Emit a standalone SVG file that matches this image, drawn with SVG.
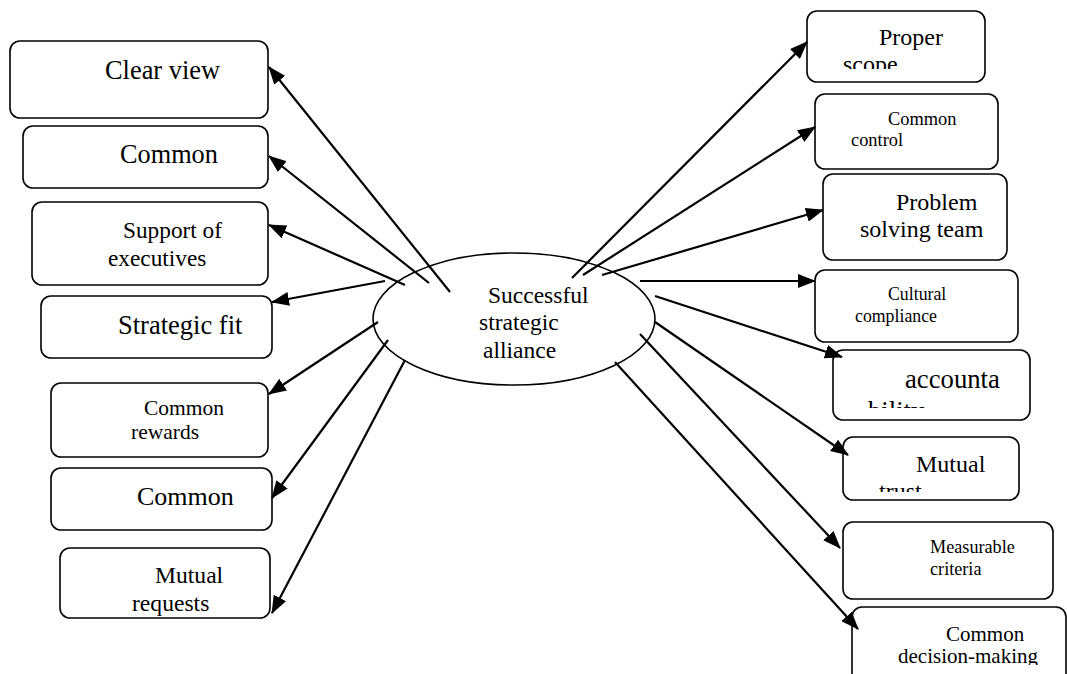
<svg xmlns="http://www.w3.org/2000/svg" width="1067" height="674" viewBox="0 0 1067 674">
<style>
.box{fill:#fff;stroke:#000;stroke-width:1.6}
text{font-family:'Liberation Serif','Times New Roman','DejaVu Serif',serif;fill:#000}
.c line{stroke:#000;stroke-width:2.2}
</style>
<defs>
<marker id="ah" markerUnits="userSpaceOnUse" markerWidth="18" markerHeight="14" refX="17" refY="7" orient="auto">
<path d="M0,0 L18,7 L0,14 z" fill="#000"/>
</marker>
<clipPath id="cp1"><rect x="808" y="12" width="176" height="57"/></clipPath>
<clipPath id="cp5"><rect x="834" y="351" width="195" height="57"/></clipPath>
<clipPath id="cp6"><rect x="844" y="438" width="174" height="54"/></clipPath>
<clipPath id="cp8"><rect x="853" y="608" width="212" height="57"/></clipPath>
</defs>

<g id="center">
<ellipse cx="514" cy="319" rx="141" ry="66" fill="#fff" stroke="#000" stroke-width="1.6"/>
<text font-size="23.5"><tspan x="488" y="303">Successful</tspan><tspan x="479" y="330">strategic</tspan><tspan x="483" y="358">alliance</tspan></text>
</g>

<g id="n-clear-view"><rect class="box" x="10" y="41" width="258" height="77" rx="10"/><text font-size="26.4" x="105" y="79">Clear view</text></g>
<g id="n-common-1"><rect class="box" x="23" y="126" width="245" height="62" rx="10"/><text font-size="26.3" x="120" y="163">Common</text></g>
<g id="n-support"><rect class="box" x="32" y="202" width="236" height="83" rx="10"/><text font-size="23.3"><tspan x="123" y="238">Support of</tspan><tspan x="108" y="266">executives</tspan></text></g>
<g id="n-strategic-fit"><rect class="box" x="41" y="296" width="231" height="62" rx="10"/><text font-size="26.5" x="118" y="334">Strategic fit</text></g>
<g id="n-common-rewards"><rect class="box" x="51" y="383" width="217" height="74" rx="10"/><text font-size="21.5"><tspan x="144" y="415">Common</tspan><tspan x="131" y="439">rewards</tspan></text></g>
<g id="n-common-2"><rect class="box" x="51" y="468" width="221" height="62" rx="10"/><text font-size="26" x="137" y="505">Common</text></g>
<g id="n-mutual-requests"><rect class="box" x="60" y="548" width="210" height="70" rx="10"/><text font-size="23.6"><tspan x="155" y="583">Mutual</tspan><tspan x="132" y="611">requests</tspan></text></g>

<g id="n-proper-scope"><rect class="box" x="807" y="11" width="178" height="71" rx="10"/><text font-size="24" clip-path="url(#cp1)"><tspan x="879" y="45">Proper</tspan><tspan x="843" y="72">scope</tspan></text></g>
<g id="n-common-control"><rect class="box" x="815" y="94" width="183" height="75" rx="10"/><text font-size="18.4"><tspan x="888" y="125">Common</tspan><tspan x="851" y="146">control</tspan></text></g>
<g id="n-problem-solving"><rect class="box" x="823" y="174" width="184" height="86" rx="10"/><text font-size="24"><tspan x="896" y="210">Problem</tspan><tspan x="860" y="237">solving team</tspan></text></g>
<g id="n-cultural"><rect class="box" x="815" y="270" width="203" height="72" rx="10"/><text font-size="17.8"><tspan x="888" y="300">Cultural</tspan><tspan x="855" y="322">compliance</tspan></text></g>
<g id="n-accountability"><rect class="box" x="833" y="350" width="197" height="70" rx="10"/><text font-size="26.7" clip-path="url(#cp5)"><tspan x="905" y="388">accounta</tspan><tspan x="868" y="420">bility</tspan></text></g>
<g id="n-mutual-trust"><rect class="box" x="843" y="437" width="176" height="63" rx="10"/><text font-size="24" clip-path="url(#cp6)"><tspan x="916" y="472">Mutual</tspan><tspan x="879" y="499">trust</tspan></text></g>
<g id="n-measurable"><rect class="box" x="843" y="522" width="210" height="77" rx="10"/><text font-size="18.2"><tspan x="930" y="553">Measurable</tspan><tspan x="930" y="575">criteria</tspan></text></g>
<g id="n-decision"><rect class="box" x="852" y="607" width="214" height="80" rx="10"/><text font-size="21" clip-path="url(#cp8)"><tspan x="946" y="641">Common</tspan><tspan x="898" y="663">decision-making</tspan></text></g>

<g id="connectors" class="c">
<line x1="450" y1="292" x2="269" y2="67" marker-end="url(#ah)"/>
<line x1="429" y1="283" x2="269" y2="156" marker-end="url(#ah)"/>
<line x1="405" y1="285" x2="269" y2="225" marker-end="url(#ah)"/>
<line x1="385" y1="281" x2="272" y2="302" marker-end="url(#ah)"/>
<line x1="378" y1="322" x2="269" y2="394" marker-end="url(#ah)"/>
<line x1="388" y1="340" x2="272" y2="498" marker-end="url(#ah)"/>
<line x1="405" y1="360" x2="272" y2="613" marker-end="url(#ah)"/>
<line x1="572" y1="278" x2="807" y2="42" marker-end="url(#ah)"/>
<line x1="583" y1="275" x2="815" y2="127" marker-end="url(#ah)"/>
<line x1="602" y1="275" x2="823" y2="210" marker-end="url(#ah)"/>
<line x1="640" y1="281" x2="815" y2="281" marker-end="url(#ah)"/>
<line x1="655" y1="296" x2="842" y2="357" marker-end="url(#ah)"/>
<line x1="655" y1="322" x2="848" y2="455" marker-end="url(#ah)"/>
<line x1="640" y1="334" x2="840" y2="548" marker-end="url(#ah)"/>
<line x1="615" y1="362" x2="858" y2="629" marker-end="url(#ah)"/>
</g>
</svg>
